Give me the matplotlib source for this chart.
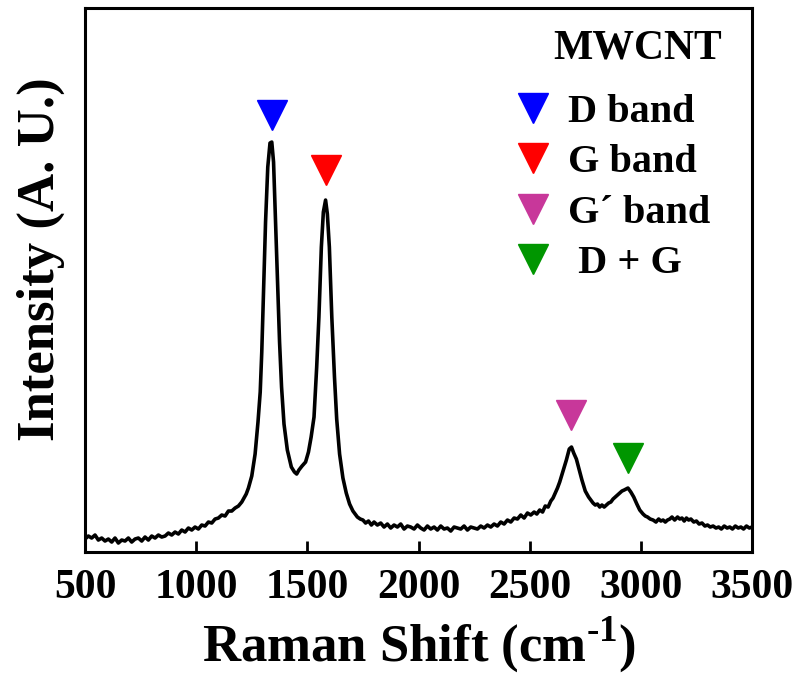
import matplotlib
matplotlib.use("Agg")
import matplotlib.pyplot as plt
from matplotlib.lines import Line2D

# Raman spectrum of MWCNT
raman_shift = [500, 515, 530, 545, 560, 575, 590, 605, 620, 635, 650, 665, 680, 695, 710, 725, 740,
               755, 770, 785, 800, 815, 830, 845, 860, 875, 890, 905, 920, 935, 950, 965, 980, 995,
               1010, 1025, 1040, 1055, 1070, 1085, 1100, 1115, 1130, 1145, 1160, 1175, 1190, 1205,
               1215, 1225, 1235, 1250, 1265, 1278, 1288, 1295,
               1303, 1312, 1322, 1332, 1340, 1348, 1357, 1366, 1375, 1384, 1395, 1410, 1428, 1442,
               1452, 1462, 1476, 1492, 1505, 1517, 1530, 1542, 1552, 1563, 1572, 1582, 1590, 1599,
               1610, 1622, 1632, 1645, 1660, 1675, 1690, 1705, 1715, 1725, 1738, 1750, 1762, 1775,
               1788, 1800, 1815, 1830, 1845, 1860, 1875, 1890, 1905, 1920, 1935, 1950, 1965, 1980,
               1995, 2010, 2025, 2040, 2055, 2070, 2085, 2100, 2115, 2130, 2145, 2160, 2175, 2190,
               2205, 2220, 2235, 2250, 2265, 2280, 2295, 2310, 2325, 2340, 2355, 2370, 2385, 2400,
               2415, 2430, 2445, 2460, 2475, 2490, 2505, 2520, 2532, 2545, 2558, 2570, 2583, 2595,
               2605, 2615, 2625, 2635, 2650,
               2665, 2678, 2688, 2698, 2710, 2722, 2735, 2750, 2765, 2775, 2785, 2795, 2805, 2815,
               2825, 2835, 2845, 2855, 2865, 2875, 2885, 2895, 2905, 2915, 2925, 2942, 2955, 2968,
               2982, 2995, 3010, 3020, 3030, 3042, 3055, 3068, 3080, 3090, 3100, 3110, 3120, 3130,
               3140, 3152, 3165, 3175, 3185, 3195, 3205, 3215, 3225, 3238, 3250, 3262, 3275, 3288,
               3300, 3312, 3325, 3338, 3350, 3362, 3375, 3388, 3400, 3412, 3425, 3438, 3450, 3462,
               3475, 3488, 3500]
intensity = [130, 160, 140, 170, 120, 140, 110, 130, 100, 140, 90, 120, 110, 140, 100, 130, 140,
             110, 150, 120, 160, 140, 170, 150, 160, 190, 170, 200, 180, 220, 200, 240, 220, 250,
             230, 270, 260, 300, 290, 330, 340, 370, 360, 410, 410, 440, 460, 500,
             540, 580, 640, 760, 980, 1300, 1600, 2000,
             2600, 3300, 3850, 4090, 4100, 3900, 3300, 2700, 2100, 1650, 1280, 1020, 850, 800,
             780, 820, 860, 900, 1000, 1150, 1350, 1850, 2350, 3050, 3400, 3520, 3380, 3050,
             2350, 1750, 1330, 980, 740, 590, 480, 410, 380, 350, 330, 320, 290, 310,
             270, 300, 270, 290, 250, 280, 240, 270, 250, 280, 230, 260, 250, 230,
             270, 240, 220, 260, 230, 250, 220, 260, 230, 240, 210, 250, 240, 230,
             260, 220, 250, 240, 230, 260, 240, 270, 250, 280, 260, 300, 280, 320,
             300, 340, 330, 370, 340, 390, 370, 400, 380, 420, 400, 460, 450, 510,
             540, 590, 640, 700, 810,
             920, 1030, 1050, 990, 930, 830, 720, 610, 550, 520, 490, 470, 480, 450,
             470, 450, 470, 490, 500, 530, 550, 570, 590, 610, 620, 640, 600, 550,
             480, 420, 380, 360, 350, 330, 320, 300, 330, 310, 320, 300, 320, 330,
             350, 320, 350, 330, 340, 310, 340, 320, 330, 300, 310, 280, 290, 260,
             270, 250, 260, 240, 250, 230, 260, 240, 250, 230, 260, 240, 250, 230,
             260, 240, 250]

# band markers (triangles above the peaks)
band_labels = ["D band", "G band", "G\u00b4 band", " D + G"]
band_pos = [1340, 1585, 2685, 2940]
band_mark_y = [4370, 3820, 1370, 940]
band_colors = ["#0000ff", "#ff0000", "#c8379a", "#009600"]

plt.rcParams["font.family"] = "Liberation Serif"
plt.rcParams["font.weight"] = "bold"
plt.rcParams["mathtext.fontset"] = "custom"
plt.rcParams["mathtext.rm"] = "Liberation Serif:bold"
plt.rcParams["mathtext.bf"] = "Liberation Serif:bold"

fig = plt.figure(figsize=(7.99, 6.77), dpi=100)
ax = fig.add_axes([0.1064, 0.1846, 0.8348, 0.8035])

ax.plot(raman_shift, intensity, color="black", lw=2.6)
for x, y, c in zip(band_pos, band_mark_y, band_colors):
    ax.plot(x, y, marker="v", color=c, markersize=22, ls="none")

ax.set_xlim(500, 3500)
ax.set_ylim(0, 5440)
ax.set_xticks(range(500, 3501, 500))
ax.set_yticks([])
ax.tick_params(axis="x", direction="in", length=8, width=2, labelsize=30, pad=12)
for s in ax.spines.values():
    s.set_linewidth(2.2)

ax.set_xlabel(r"Raman Shift (cm$^{\text{-1}}$)", fontsize=38, fontweight="bold")
ax.set_ylabel("Intensity (A. U.)", fontsize=38, fontweight="bold")
ax.yaxis.set_label_coords(-0.03, 0.539)
ax.xaxis.set_label_coords(0.5, -0.115)

ax.text(0.829, 0.925, "MWCNT", transform=ax.transAxes, ha="center", va="center",
        fontsize=30, fontweight="bold")
handles = [Line2D([], [], marker="v", ls="none", color=c, markersize=22) for c in band_colors]
ax.legend(handles, band_labels, loc="upper left", bbox_to_anchor=(0.642, 0.843),
          frameon=False, fontsize=29, handlelength=1.0, handletextpad=0.35,
          labelspacing=0.33, borderpad=0, borderaxespad=0)

fig.savefig("out.png", dpi=100)
